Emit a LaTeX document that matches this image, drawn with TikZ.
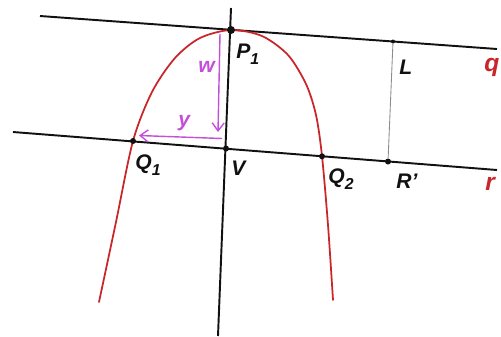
\documentclass[tikz,border=0pt]{standalone}
\usepackage{fontspec}
\setmainfont{Liberation Sans}
\usepackage{xcolor}
\usepackage{tikz}
\usetikzlibrary{arrows.meta}
\definecolor{ink}{HTML}{111111}
\definecolor{curve}{HTML}{C8262A}
\definecolor{lilac}{HTML}{C44FD8}
\definecolor{rule}{HTML}{8C8C8C}
\newcommand{\lowidx}[1]{\raisebox{-0.55ex}{\fontsize{9}{10}\selectfont #1}}
\tikzset{
  dot/.style={circle,fill=ink,inner sep=0pt,minimum size=#1},
  dot/.default=1.2mm,
  gline/.style={draw=ink,line width=1.1pt},
  parab/.style={draw=curve,line width=1pt,line cap=round},
  marr/.style={-{Straight Barb[length=1.6mm,width=2.4mm]},line width=0.8pt,color=lilac},
  lbl/.style={font=\fontsize{12}{14}\selectfont\bfseries\itshape,text=ink,inner sep=0pt,anchor=base west},
  mlbl/.style={lbl,text=lilac},
  rlbl/.style={lbl,font=\fontsize{14}{16}\selectfont\bfseries\itshape,text=curve},
}

\begin{document}
\begin{tikzpicture}[x=0.02cm,y=-0.02cm]
    \useasboundingbox (0,0) rectangle (501,336);
    \coordinate (q1) at (40,16); \coordinate (q2) at (497,49);
    \coordinate (r1) at (13,132); \coordinate (r2) at (497,170);
    \coordinate (a1) at (231,8); \coordinate (a2) at (218,336);
    % lines first
    \draw[gline] (q1) -- (q2);
    \draw[gline] (r1) -- (r2);
    \draw[gline] (a1) -- (a2);
    \draw[parab] plot[smooth] coordinates {(99,302) (116,222) (133,141) (152,92) (175,58) (200,38) (231,30) (262,36) (288,55) (306,84) (316,115) (322,156) (328,225) (333,300)};
    \node[dot=1.6mm] (P1) at (231,30) {};
    \node[dot=0.8mm] (L) at (393,41.5) {};
    \node[dot] (Q1) at (133,141) {};
    \node[dot] (V) at (226,148.5) {};
    \node[dot] (Q2) at (322,156.3) {};
    \node[dot] (Rp) at (388,161.5) {};
    \draw[line width=0.5pt,color=rule] (L) -- (Rp);
    \coordinate (wtop) at (220,34); \coordinate (wtip) at (218,132);
    \coordinate (ytail) at (222,138.5); \coordinate (ytip) at (139,135.5);
    \draw[marr] (wtop) -- (wtip);
    \draw[marr] (ytail) -- (ytip);
    \node[lbl] (tP1) at (236,58) {P\lowidx{1}};
    \node[lbl] (tL) at (399,74) {L};
    \node[lbl] (tQ1) at (135,169) {Q\lowidx{1}};
    \node[lbl] (tV) at (231,175) {V};
    \node[lbl] (tQ2) at (328,183) {Q\lowidx{2}};
    \node[lbl] (tRp) at (396,188) {R'};
    \node[mlbl] (tw) at (198,72) {w};
    \node[mlbl] (ty) at (178,126) {y};
    \node[rlbl] (tq) at (484,71) {q};
    \node[rlbl] (tr) at (485,190) {r};
  \end{tikzpicture}
\end{document}
